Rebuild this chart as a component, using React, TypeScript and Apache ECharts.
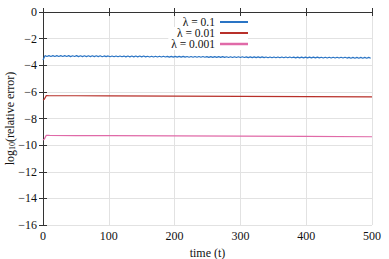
import React, { useEffect, useRef } from "react";
import * as echarts from "echarts";

const seriesNames = ["λ = 0.1", "λ = 0.01", "λ = 0.001"];
const colors = ["#2a74c4", "#b8302a", "#e06aa8"];

// λ = 0.1 sampled every 3 time units (t = index * 3)
const blueStep = 3;
const blueValues = [
  -3.60, -3.28, -3.34, -3.28, -3.34, -3.28, -3.34, -3.28, -3.34, -3.28,
  -3.34, -3.28, -3.34, -3.28, -3.35, -3.29, -3.34, -3.28, -3.35, -3.29,
  -3.35, -3.29, -3.35, -3.29, -3.35, -3.29, -3.35, -3.29, -3.35, -3.29,
  -3.36, -3.30, -3.35, -3.30, -3.36, -3.30, -3.36, -3.30, -3.36, -3.30,
  -3.36, -3.31, -3.37, -3.31, -3.37, -3.31, -3.37, -3.31, -3.37, -3.31,
  -3.37, -3.31, -3.37, -3.32, -3.38, -3.32, -3.38, -3.32, -3.38, -3.32,
  -3.38, -3.32, -3.38, -3.33, -3.39, -3.33, -3.39, -3.33, -3.39, -3.33,
  -3.39, -3.33, -3.39, -3.34, -3.40, -3.34, -3.40, -3.34, -3.40, -3.34,
  -3.40, -3.34, -3.40, -3.35, -3.41, -3.35, -3.41, -3.35, -3.41, -3.35,
  -3.41, -3.35, -3.41, -3.36, -3.42, -3.36, -3.42, -3.36, -3.42, -3.36,
  -3.42, -3.36, -3.42, -3.37, -3.43, -3.37, -3.43, -3.37, -3.43, -3.37,
  -3.43, -3.37, -3.43, -3.38, -3.44, -3.38, -3.44, -3.38, -3.44, -3.38,
  -3.44, -3.38, -3.44, -3.38, -3.44, -3.38, -3.44, -3.39, -3.45, -3.39,
  -3.45, -3.39, -3.45, -3.39, -3.45, -3.39, -3.45, -3.39, -3.45, -3.39,
  -3.45, -3.40, -3.46, -3.40, -3.46, -3.40, -3.46, -3.40, -3.46, -3.40,
  -3.46, -3.40, -3.46, -3.40, -3.46, -3.41, -3.47, -3.41, -3.47, -3.41,
  -3.47, -3.41, -3.47, -3.41, -3.47, -3.41, -3.47,
];

const redTimes = [0, 2, 5, 10, 50, 100, 200, 300, 400, 500];
const redValues = [-6.62, -6.55, -6.28, -6.29, -6.29, -6.30, -6.32, -6.34, -6.36, -6.38];

const pinkTimes = [0, 2, 5, 10, 50, 100, 200, 300, 400, 500];
const pinkValues = [-9.62, -9.55, -9.26, -9.27, -9.28, -9.29, -9.31, -9.33, -9.35, -9.37];

const yMin = -16;
const yMax = 0;

const FONT = "Liberation Serif";

export default function App() {
  const ref = useRef<HTMLDivElement>(null);
  useEffect(() => {
    if (!ref.current) return;
    const chart = echarts.init(ref.current, null, { renderer: "svg" });
    const blueData = blueValues.map((v, i) => [i * blueStep, v]);
    const redData = redTimes.map((t, i) => [t, redValues[i]]);
    const pinkData = pinkTimes.map((t, i) => [t, pinkValues[i]]);
    const fmt = (v: number) => (v < 0 ? "\u2212" + Math.abs(v) : String(v));
    const axisLine = { show: true, lineStyle: { color: "#333", width: 1 } };
    const legendBase = {
      right: 141,
      orient: "vertical" as const,
      align: "right" as const,
      itemWidth: 28,
      itemHeight: 2,
      itemGap: 0,
      icon: "rect",
      padding: [0, 0, 0, 3],
      backgroundColor: "#fff",
      textStyle: { fontFamily: FONT, fontSize: 11.5, lineHeight: 10, color: "#111" },
    };
    chart.setOption({
      animation: false,
      backgroundColor: "#fff",
      textStyle: { fontFamily: FONT },
      grid: { left: 43, right: 17, top: 12, bottom: 34, containLabel: false, outerBoundsMode: "none" },
      legend: [
        { ...legendBase, top: 16, data: [seriesNames[0]] },
        { ...legendBase, top: 27, data: [seriesNames[1]] },
        { ...legendBase, top: 38, data: [seriesNames[2]], itemHeight: 2.5 },
      ],
      xAxis: [
        {
          type: "value",
          min: 0,
          max: 500,
          interval: 100,
          name: "time (t)",
          nameLocation: "middle",
          nameGap: 20,
          nameTextStyle: { fontFamily: FONT, fontSize: 12, color: "#111" },
          axisLine,
          axisTick: { show: true, inside: true, length: 4, lineStyle: { color: "#333" } },
          axisLabel: { fontFamily: FONT, fontSize: 12, color: "#111", margin: 5 },
          splitLine: { show: true, lineStyle: { color: "#e2e2e2", width: 1 } },
        },
        {
          type: "value",
          position: "top",
          min: 0,
          max: 500,
          interval: 100,
          axisLine,
          axisTick: { show: true, inside: true, length: 4, lineStyle: { color: "#333" } },
          axisLabel: { show: false },
          splitLine: { show: false },
        },
      ],
      yAxis: [
        {
          type: "value",
          min: yMin,
          max: yMax,
          interval: 2,
          name: "{a|log}{s|10}{a|(relative error)}",
          nameLocation: "middle",
          nameGap: 27,
          nameMoveOverlap: false,
          nameTextStyle: {
            rich: {
              a: { fontFamily: FONT, fontSize: 12, color: "#111" },
              s: { fontFamily: FONT, fontSize: 8, color: "#111", verticalAlign: "bottom", padding: [5, 0, 0, 0] },
            },
          },
          axisLine,
          axisTick: { show: true, inside: true, length: 4, lineStyle: { color: "#333" } },
          axisLabel: { fontFamily: FONT, fontSize: 12, color: "#111", margin: 6, formatter: fmt },
          splitLine: { show: true, lineStyle: { color: "#e2e2e2", width: 1 } },
        },
        {
          type: "value",
          position: "right",
          min: yMin,
          max: yMax,
          interval: 2,
          axisLine,
          axisTick: { show: true, inside: true, length: 4, lineStyle: { color: "#333" } },
          axisLabel: { show: false },
          splitLine: { show: false },
        },
      ],
      series: [
        {
          name: seriesNames[0],
          type: "line",
          data: blueData,
          symbol: "none",
          lineStyle: { color: colors[0], width: 1.2 },
          itemStyle: { color: colors[0] },
        },
        {
          name: seriesNames[1],
          type: "line",
          data: redData,
          symbol: "none",
          lineStyle: { color: colors[1], width: 1.2 },
          itemStyle: { color: colors[1] },
        },
        {
          name: seriesNames[2],
          type: "line",
          data: pinkData,
          symbol: "none",
          lineStyle: { color: colors[2], width: 1.2 },
          itemStyle: { color: colors[2] },
        },
      ],
    });
    return () => chart.dispose();
  }, []);
  return <div ref={ref} style={{ width: 389, height: 259, position: "absolute", left: 0, top: 0 }} />;
}
